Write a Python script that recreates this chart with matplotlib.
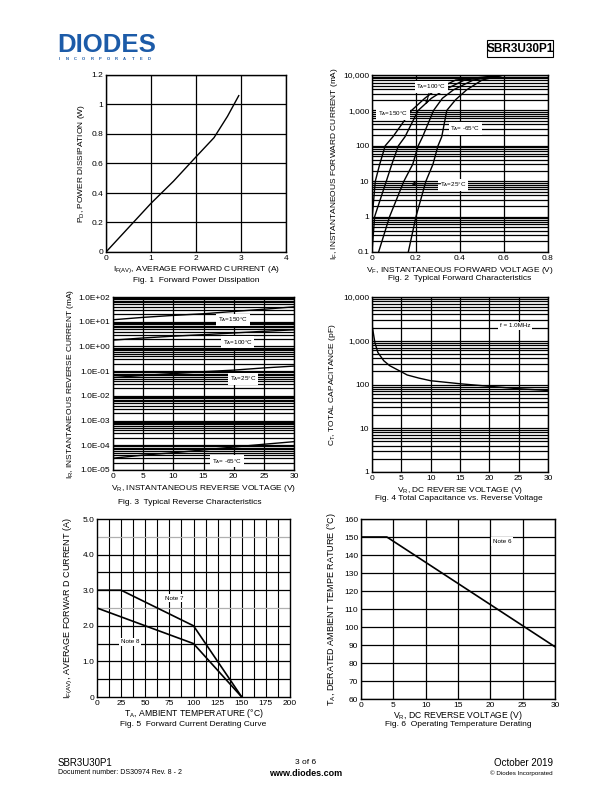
import numpy as np
import matplotlib
matplotlib.use('Agg')
import matplotlib.pyplot as plt
from matplotlib.ticker import LogLocator, NullFormatter
from matplotlib.patches import Rectangle

plt.rcParams['font.family'] = ['Liberation Sans', 'DejaVu Sans']
plt.rcParams['mathtext.fontset'] = 'custom'
plt.rcParams['mathtext.rm'] = 'Liberation Sans'
plt.rcParams['mathtext.it'] = 'Liberation Sans'
plt.rcParams['mathtext.default'] = 'regular'
plt.rcParams['font.size'] = 6

W, H = 612, 792

# Fig. 1 - forward power dissipation
f1_if = [0, 0.5, 1.0, 1.5, 2.0, 2.4, 2.7, 2.95]
f1_pd = [0, 0.165, 0.33, 0.48, 0.645, 0.775, 0.92, 1.06]

# Fig. 2 - typical forward characteristics (V, mA)
f2_v_150 = [0.0, 0.001, 0.015, 0.035, 0.06, 0.095, 0.18, 0.24, 0.29, 0.38, 0.6]
f2_i_150 = [0.1, 1, 10, 30, 100, 180, 1000, 2200, 3800, 7200, 10000]
f2_v_100 = [0.0, 0.012, 0.065, 0.09, 0.12, 0.15, 0.21, 0.27, 0.33, 0.42, 0.6]
f2_i_100 = [0.1, 1, 10, 30, 100, 180, 1000, 2200, 3800, 7200, 10000]
f2_v_25 = [0.03, 0.08, 0.145, 0.185, 0.21, 0.23, 0.28, 0.32, 0.37, 0.46, 0.6]
f2_i_25 = [0.1, 1, 10, 30, 100, 180, 1000, 2200, 3800, 7200, 10000]
f2_v_m65 = [0.165, 0.2, 0.245, 0.277, 0.3, 0.317, 0.34, 0.38, 0.43, 0.5, 0.6]
f2_i_m65 = [0.1, 1, 10, 30, 100, 180, 1000, 2000, 3800, 7200, 10000]

# Fig. 3 - typical reverse characteristics (V, mA)
f3_v = [0, 5, 10, 15, 20, 25, 30]
f3_i_150 = [12, 15, 18, 21, 26, 32, 40]
f3_i_100 = [1.8, 2.2, 2.6, 3.0, 3.5, 4.1, 4.7]
f3_i_25 = [0.055, 0.067, 0.08, 0.095, 0.11, 0.135, 0.16]
f3_i_m65 = [3.0e-5, 4.0e-5, 5.0e-5, 6.5e-5, 8.5e-5, 1.1e-4, 1.4e-4]

# Fig. 4 - total capacitance (V, pF)
f4_v = [0, 0.5, 1, 2, 3, 5, 6, 8, 10, 15, 20, 25, 30]
f4_c = [2300, 900, 540, 350, 270, 195, 165, 140, 122, 104, 91, 80, 73]

# Fig. 5 - forward current derating
f5_t_n7 = [0, 25, 100, 150]
f5_i_n7 = [3.0, 3.0, 2.0, 0]
f5_t_n8 = [0, 100, 150]
f5_i_n8 = [2.5, 1.5, 0]

# Fig. 6 - operating temperature derating
f6_v = [0, 4, 30]
f6_t = [150, 150, 89]


def px_axes(fig, l, t, r, b):
    return fig.add_axes([l / W, 1 - b / H, (r - l) / W, (b - t) / H])


def ftext(fig, x, y, s, **kw):
    fig.text(x / W, 1 - y / H, s, **kw)


def style(ax):
    for sp in ax.spines.values():
        sp.set_linewidth(1.0)
    ax.tick_params(which='both', length=0, pad=2, labelsize=6)


def boxed(ax, x, y, s, size=4.5):
    ax.text(x, y, s, fontsize=size, ha='center', va='center', zorder=4,
            bbox=dict(facecolor='white', edgecolor='none', pad=1.2))


def log_grid(ax):
    ax.yaxis.set_minor_locator(LogLocator(base=10, subs=np.arange(2, 10), numticks=30))
    ax.yaxis.set_minor_formatter(NullFormatter())
    ax.grid(which='both', axis='y', color='black', lw=0.9)


fig = plt.figure(figsize=(W / 100, H / 100), dpi=100)

# header
ftext(fig, 57, 45, 'DIODES', fontsize=18.5, fontweight='bold', color='#1c5ba8',
      va='center', ha='left')
for k, ch in enumerate('INCORPORATED'):
    ftext(fig, 59 + k * 8.2, 59, ch, fontsize=3, color='#1c5ba8', va='center',
          ha='center', fontweight='bold')
fig.patches.append(Rectangle((487 / W, 1 - 57 / H), 66 / W, 17 / H, transform=fig.transFigure,
                             fill=False, edgecolor='black', lw=0.8))
ftext(fig, 520, 48.5, 'SBR3U30P1', fontsize=8.5, fontweight='bold', ha='center', va='center')

# Fig. 1
ax = px_axes(fig, 106, 75, 286, 252)
style(ax)
ax.plot(f1_if, f1_pd, color='black', lw=1.0)
ax.set_xlim(0, 4)
ax.set_ylim(0, 1.2)
ax.set_xticks([0, 1, 2, 3, 4])
ax.set_yticks([0, 0.2, 0.4, 0.6, 0.8, 1.0, 1.2])
ax.set_yticklabels(['0', '0.2', '0.4', '0.6', '0.8', '1', '1.2'])
ax.grid(color='black', lw=0.9)
ax.set_xlabel('I$_{F(AV)}$, AVERAGE FORWARD CURRENT (A)', fontsize=6, labelpad=2)
ax.set_ylabel('P$_D$, POWER DISSIPATION (W)', fontsize=6, labelpad=3)
ftext(fig, 196, 280, 'Fig. 1  Forward Power Dissipation', fontsize=6, ha='center', va='center')

# Fig. 2
ax = px_axes(fig, 372, 75, 548, 252)
style(ax)
ax.set_yscale('log')
for v, i in [(f2_v_150, f2_i_150), (f2_v_100, f2_i_100), (f2_v_25, f2_i_25), (f2_v_m65, f2_i_m65)]:
    ax.plot(v, i, color='black', lw=1.0, zorder=3)
ax.set_xlim(0, 0.8)
ax.set_ylim(0.1, 10000)
ax.set_xticks([0, 0.2, 0.4, 0.6, 0.8])
ax.set_xticklabels(['0', '0.2', '0.4', '0.6', '0.8'])
ax.set_yticks([0.1, 1, 10, 100, 1000, 10000])
ax.set_yticklabels(['0.1', '1', '10', '100', '1,000', '10,000'])
log_grid(ax)
ax.grid(which='major', axis='x', color='black', lw=0.9)
boxed(ax, 0.27, 4600, 'T$_A$=100°C')
ax.annotate('', xy=(0.243, 1250), xytext=(0.262, 3600),
            arrowprops=dict(arrowstyle='-|>', color='black', lw=0.8, mutation_scale=5), zorder=5)
boxed(ax, 0.095, 800, 'T$_A$=150°C')
boxed(ax, 0.425, 310, 'T$_A$= -65°C')
boxed(ax, 0.368, 7.8, 'T$_A$=25°C')
ax.annotate('', xy=(0.165, 8.5), xytext=(0.325, 8.5),
            arrowprops=dict(arrowstyle='-|>', color='black', lw=0.8, mutation_scale=5), zorder=5)
ax.set_xlabel('V$_F$, INSTANTANEOUS FORWARD VOLTAGE (V)', fontsize=6, labelpad=2)
ax.set_ylabel('I$_F$, INSTANTANEOUS FORWARD CURRENT (mA)', fontsize=6, labelpad=2)
ftext(fig, 460, 278, 'Fig. 2  Typical Forward Characteristics', fontsize=6, ha='center', va='center')

# Fig. 3
ax = px_axes(fig, 113, 297, 294, 470)
style(ax)
ax.set_yscale('log')
for i in [f3_i_150, f3_i_100, f3_i_25, f3_i_m65]:
    ax.plot(f3_v, i, color='black', lw=1.0, zorder=3)
ax.set_xlim(0, 30)
ax.set_ylim(1e-5, 1e2)
ax.set_xticks(range(0, 31, 5))
yt = [1e-5, 1e-4, 1e-3, 1e-2, 1e-1, 1e0, 1e1, 1e2]
ax.set_yticks(yt)
ax.set_yticklabels(['1.0E-05', '1.0E-04', '1.0E-03', '1.0E-02', '1.0E-01',
                    '1.0E+00', '1.0E+01', '1.0E+02'])
log_grid(ax)
ax.grid(which='major', axis='x', color='black', lw=0.9)
boxed(ax, 19.9, 11.7, 'T$_A$=150°C')
boxed(ax, 20.7, 1.5, 'T$_A$=100°C')
boxed(ax, 21.5, 0.048, 'T$_A$=25°C')
boxed(ax, 18.9, 2.3e-5, 'T$_A$= -65°C')
ax.set_xlabel('V$_R$, INSTANTANEOUS REVERSE VOLTAGE (V)', fontsize=6, labelpad=2)
ax.set_ylabel('I$_R$, INSTANTANEOUS REVERSE CURRENT (mA)', fontsize=6, labelpad=2)
ftext(fig, 190, 502, 'Fig. 3  Typical Reverse Characteristics', fontsize=6, ha='center', va='center')

# Fig. 4
ax = px_axes(fig, 372, 297, 548, 472)
style(ax)
ax.set_yscale('log')
ax.plot(f4_v, f4_c, color='black', lw=1.0, zorder=3)
ax.set_xlim(0, 30)
ax.set_ylim(1, 10000)
ax.set_xticks(range(0, 31, 5))
ax.set_yticks([1, 10, 100, 1000, 10000])
ax.set_yticklabels(['1', '10', '100', '1,000', '10,000'])
log_grid(ax)
ax.grid(which='major', axis='x', color='black', lw=0.9)
boxed(ax, 24.4, 2200, 'f = 1.0MHz')
ax.set_xlabel('V$_R$, DC REVERSE VOLTAGE (V)', fontsize=6, labelpad=2)
ax.set_ylabel('C$_T$, TOTAL CAPACITANCE (pF)', fontsize=6, labelpad=4)
ftext(fig, 459, 498, 'Fig. 4 Total Capacitance vs. Reverse Voltage', fontsize=6, ha='center', va='center')

# Fig. 5
ax = px_axes(fig, 97, 519, 290, 697)
style(ax)
ax.plot(f5_t_n7, f5_i_n7, color='black', lw=1.2, zorder=3)
ax.plot(f5_t_n8, f5_i_n8, color='black', lw=1.2, zorder=3)
ax.set_xlim(0, 200)
ax.set_ylim(0, 5)
ax.set_xticks(range(0, 201, 25))
ax.set_yticks([0, 1, 2, 3, 4, 5])
ax.set_yticklabels(['0', '1.0', '2.0', '3.0', '4.0', '5.0'])
for t in np.arange(12.5, 200, 12.5):
    ax.axvline(t, color='black', lw=0.8, zorder=1)
for c in np.arange(0.5, 5, 0.5):
    col = '#b0b0b0' if c in (2.5, 4.5) else 'black'
    ax.axhline(c, color=col, lw=0.9, zorder=1)
boxed(ax, 80, 2.78, 'Note 7')
boxed(ax, 34, 1.55, 'Note 8')
ax.set_xlabel('T$_A$, AMBIENT TEMPERATURE (°C)', fontsize=6.2, labelpad=0)
ax.set_ylabel('I$_{F(AV)}$, AVERAGE FORWAR D CURRENT (A)', fontsize=6.5, labelpad=5)
ftext(fig, 193, 724, 'Fig. 5  Forward Current Derating Curve', fontsize=6, ha='center', va='center')

# Fig. 6
ax = px_axes(fig, 361, 519, 555, 699)
style(ax)
ax.plot(f6_v, f6_t, color='black', lw=1.2, zorder=3)
ax.set_xlim(0, 30)
ax.set_ylim(60, 160)
ax.set_xticks(range(0, 31, 5))
ax.set_yticks(range(60, 161, 10))
ax.grid(color='black', lw=0.9)
boxed(ax, 21.8, 147.5, 'Note 6')
ax.set_xlabel('V$_R$, DC REVERSE VOLTAGE (V)', fontsize=6.2, labelpad=0)
ax.set_ylabel('T$_A$, DERATED AMBIENT TEMPE RATURE (°C)', fontsize=6.5, labelpad=4)
ftext(fig, 458, 724, 'Fig. 6  Operating Temperature Derating', fontsize=6, ha='center', va='center')

# footer
ftext(fig, 58, 763, 'SBR3U30P1', fontsize=7, ha='left', va='center')
ftext(fig, 58, 773, 'Document number: DS30974 Rev. 8 - 2', fontsize=5, ha='left', va='center')
ftext(fig, 306, 762, '3 of 6', fontsize=6, ha='center', va='center')
ftext(fig, 306, 773, 'www.diodes.com', fontsize=6.5, fontweight='bold', ha='center', va='center')
ftext(fig, 553, 763, 'October 2019', fontsize=7, ha='right', va='center')
ftext(fig, 553, 773, '© Diodes Incorporated', fontsize=4.5, ha='right', va='center')

fig.savefig('out.png', dpi=100)
